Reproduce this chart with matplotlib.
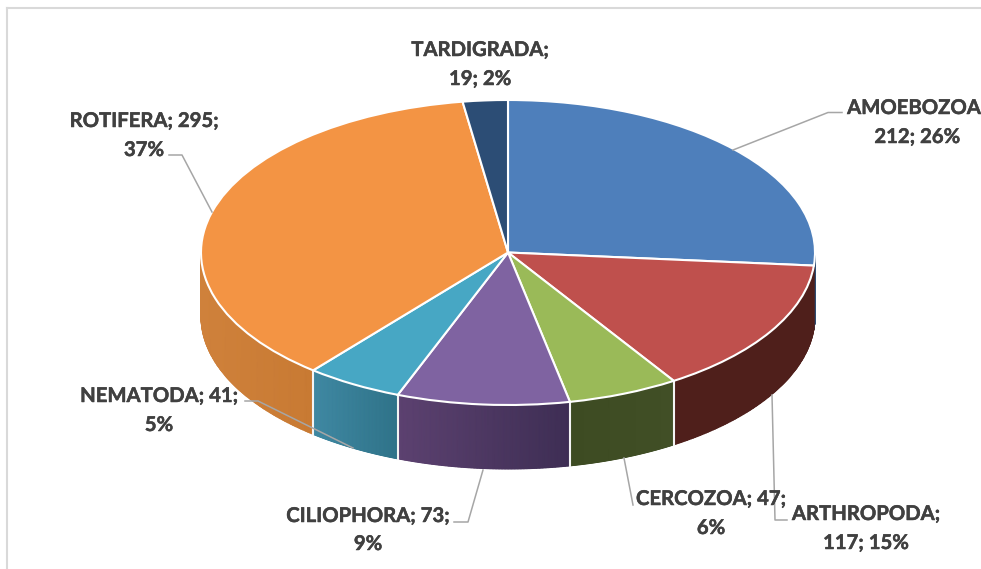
import numpy as np
import matplotlib
matplotlib.use('Agg')
import matplotlib.pyplot as plt
import matplotlib.patheffects as pe
from matplotlib.colors import LinearSegmentedColormap

plt.rcParams['font.family'] = ['Lato', 'DejaVu Sans']

categories = ['AMOEBOZOA', 'ARTHROPODA', 'CERCOZOA', 'CILIOPHORA', 'NEMATODA', 'ROTIFERA', 'TARDIGRADA']
values = [212, 117, 47, 73, 41, 295, 19]
top_colors = ['#4E7FBB', '#BF504D', '#9ABA58', '#7F63A1', '#47A7C4', '#F39444', '#2C4D75']
# wall shading, left edge to right edge of the visible part
wall_left = ['#2F4D72', '#4F1F1B', '#3D4B22', '#5C4170', '#3F88A2', '#CF813B', '#1B2D47']
wall_right = ['#2F4D72', '#4F1F1B', '#414F26', '#3E2E54', '#2F7389', '#C87A33', '#1B2D47']

W, H = 981, 569
CX, CY, RX, RY = 508, 252.5, 307, 152.5
DEPTH = 64 / RY
TEXT = '#404040'
LEAD = '#A6A6A6'

# first line, second line, (x1, y1, x2, y2) centres in pixels
label_lines = {
    'AMOEBOZOA': ('AMOEBOZOA', 914, 108, 917, 137),
    'ARTHROPODA': ('ARTHROPODA;', 866, 514, 866, 543),
    'CERCOZOA': ('CERCOZOA; 47;', 711, 499, 711, 528),
    'CILIOPHORA': ('CILIOPHORA; 73;', 368, 516, 368, 544),
    'NEMATODA': ('NEMATODA; 41;', 159, 396, 159, 425),
    'ROTIFERA': ('ROTIFERA; 295;', 144, 121, 144, 150),
    'TARDIGRADA': ('TARDIGRADA;', 480, 50, 480, 79),
}
second_lines = {
    'AMOEBOZOA': '212; 26%', 'ARTHROPODA': '117; 15%', 'CERCOZOA': '6%', 'CILIOPHORA': '9%',
    'NEMATODA': '5%', 'ROTIFERA': '37%', 'TARDIGRADA': '19; 2%',
}
leaders = [
    [(733, 150), (828, 112.5), (842, 112.5)],
    [(772, 395), (775, 520), (787, 520)],
    [(624, 458), (633, 505)],
    [(483, 470), (468, 522), (454, 522)],
    [(353, 448), (258, 401), (245, 401)],
    [(212, 212), (182, 155), (169, 155)],
]

fig = plt.figure(figsize=(W / 100, H / 100), dpi=100, facecolor='white')

# pie axes: unit circle squashed into the ellipse
ax = fig.add_axes([0, 0, 1, 1])
ax.pie(values, colors=top_colors, startangle=90, counterclock=False, radius=1,
       wedgeprops=dict(edgecolor='white', linewidth=1.5, zorder=3))
ax.set_aspect('auto')
ax.set_xlim((0 - CX) / RX, (W - CX) / RX)
ax.set_ylim((CY - H) / RY, CY / RY)
ax.axis('off')

# side wall: clockwise angle from the top, visible between 90 and 270 degrees
edges = np.concatenate([[0], np.cumsum(values)]) / sum(values) * 360
for i in range(len(values)):
    a0, a1 = max(edges[i], 90), min(edges[i + 1], 270)
    if a1 <= a0:
        continue
    t = np.radians(np.linspace(a0, a1, 120))
    x = np.sin(t)
    y = np.cos(t)
    X = np.vstack([x, x])
    Y = np.vstack([y, y - DEPTH])
    cm = LinearSegmentedColormap.from_list('w%d' % i, [wall_left[i], wall_right[i]])
    ax.pcolormesh(X, Y, X, cmap=cm, shading='gouraud', zorder=1)
    # white seam between neighbouring walls, the one at the far right edge stays hidden
    if 100 < a0 < 270:
        r = np.radians(a0)
        ax.plot([np.sin(r)] * 2, [np.cos(r), np.cos(r) - DEPTH], color='#F4F4F4', lw=1.5, zorder=2)

# overlay in pixel coordinates for labels and leader lines
ov = fig.add_axes([0, 0, 1, 1], facecolor='none')
ov.set_xlim(0, W)
ov.set_ylim(H, 0)
ov.axis('off')
ov.plot([7, 7], [H, 8], color='#D9D9D9', lw=1.5)
ov.plot([7, W], [8, 8], color='#D9D9D9', lw=1.5)
for pts in leaders:
    ov.plot([p[0] for p in pts], [p[1] for p in pts], color=LEAD, lw=1.1, zorder=4)
stroke = [pe.withStroke(linewidth=0.35, foreground=TEXT)]
for name in categories:
    first, x1, y1, x2, y2 = label_lines[name]
    for s, tx, ty in ((first, x1, y1), (second_lines[name], x2, y2)):
        ov.text(tx, ty, s, ha='center', va='center', fontsize=14.6, fontweight='bold', color=TEXT,
                zorder=5, path_effects=stroke)

fig.savefig('out.png', dpi=100)
